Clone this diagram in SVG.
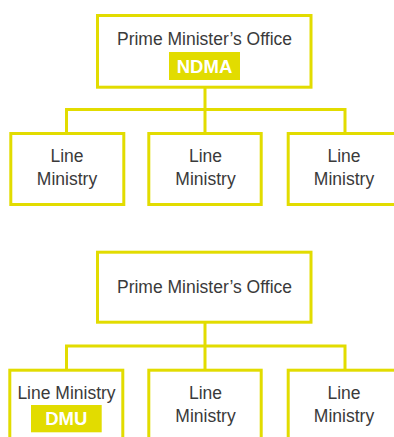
<svg xmlns="http://www.w3.org/2000/svg" width="394" height="437" viewBox="0 0 394 437">
<style>
.box{fill:#fff;stroke:#e2dc00;stroke-width:3}
.conn{fill:none;stroke:#e2dc00;stroke-width:3}
.t{font-family:"Liberation Sans",Arial,sans-serif;font-size:17.5px;fill:#3a3a3a;text-anchor:middle}
.hl{fill:#e2dc00}
.b{font-family:"Liberation Sans",Arial,sans-serif;font-size:18.5px;font-weight:bold;fill:#fff;text-anchor:middle}
</style>
<rect width="394" height="437" fill="#fff"/>
<g id="connectors">
<path class="conn" d="M205 88 V109.5 M66.5 109.5 H345.5 M66.5 108 V133 M205 109.5 V133 M345 108 V133"/>
<path class="conn" d="M205 323 V346 M66.5 346 H345.5 M66.5 344.5 V369 M205 346 V369 M345 344.5 V369"/>
</g>
<g id="pmo1">
<rect class="box" x="97.5" y="15.5" width="213.5" height="71.7"/>
<text class="t" x="204.5" y="45">Prime Minister’s Office</text>
<rect class="hl" x="169" y="52" width="71" height="28"/>
<text class="b" x="204.5" y="72.7">NDMA</text>
</g>
<g id="lm1a">
<rect class="box" x="10.8" y="133.5" width="113" height="71"/>
<text class="t" x="67" y="161.7">Line</text>
<text class="t" x="67" y="185">Ministry</text>
</g>
<g id="lm1b">
<rect class="box" x="148.8" y="133.5" width="112.4" height="71"/>
<text class="t" x="205.5" y="161.7">Line</text>
<text class="t" x="205.5" y="185">Ministry</text>
</g>
<g id="lm1c">
<rect class="box" x="288.2" y="133.5" width="112" height="71"/>
<text class="t" x="344" y="161.7">Line</text>
<text class="t" x="344" y="185">Ministry</text>
</g>
<g id="pmo2">
<rect class="box" x="97.5" y="252.2" width="213.5" height="70"/>
<text class="t" x="204.5" y="292.7">Prime Minister’s Office</text>
</g>
<g id="lm2a">
<rect class="box" x="9.8" y="370.2" width="113" height="80"/>
<text class="t" x="66.5" y="399.3">Line Ministry</text>
<rect class="hl" x="31" y="405" width="70.7" height="27.3"/>
<text class="b" x="66.3" y="425">DMU</text>
</g>
<g id="lm2b">
<rect class="box" x="148.8" y="370.2" width="112.4" height="80"/>
<text class="t" x="205.5" y="399.3">Line</text>
<text class="t" x="205.5" y="421.5">Ministry</text>
</g>
<g id="lm2c">
<rect class="box" x="288.2" y="370.2" width="112" height="80"/>
<text class="t" x="344" y="399.3">Line</text>
<text class="t" x="344" y="421.5">Ministry</text>
</g>
</svg>
